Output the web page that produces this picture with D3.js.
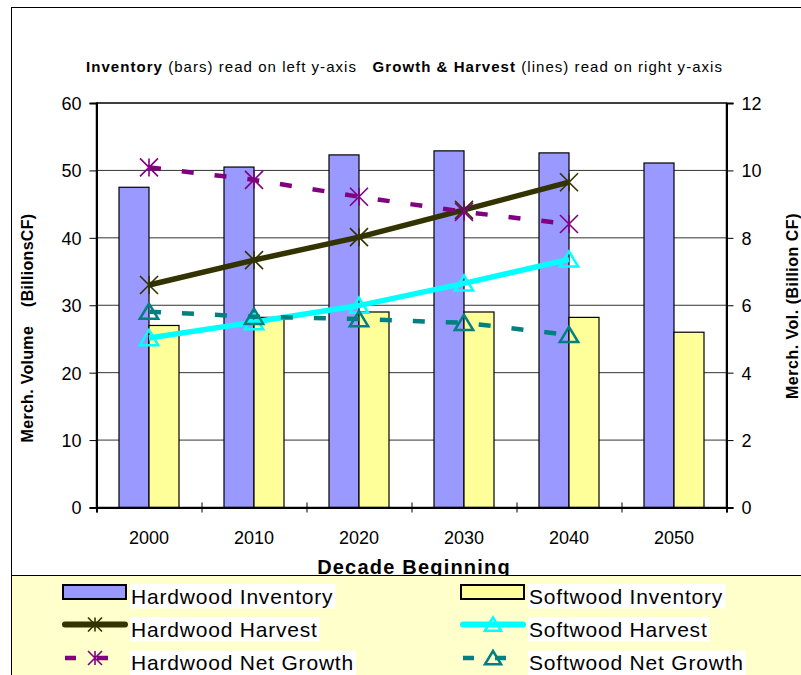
<!DOCTYPE html>
<html><head><meta charset="utf-8">
<script src="https://cdn.jsdelivr.net/npm/d3@7"></script>
<style>
html,body{margin:0;padding:0;background:#fff;}
svg{display:block;font-family:"Liberation Sans",Arial,sans-serif;}
text{white-space:pre;}
</style></head>
<body><svg id="c" width="801" height="675"></svg>
<script>
const decades = ["2000","2010","2020","2030","2040","2050"];
const hardwoodInventory = [47.5, 50.5, 52.3, 52.9, 52.6, 51.1];
const softwoodInventory = [27.0, 28.2, 29.0, 29.0, 28.2, 26.0];
const lineDecades = ["2000","2010","2020","2030","2040"];
const hardwoodHarvest = [6.60, 7.34, 8.02, 8.83, 9.65];
const softwoodHarvest = [5.03, 5.50, 5.99, 6.65, 7.36];
const hardwoodNetGrowth = [10.09, 9.72, 9.22, 8.77, 8.41];
const softwoodNetGrowth = [5.81, 5.66, 5.59, 5.48, 5.12];
const leftTicks = [0,10,20,30,40,50,60];
const rightTicks = [0,2,4,6,8,10,12];

const FONT = "'Liberation Sans',Arial,sans-serif";
const svg = d3.select("#c");
const L = 96.5, R = 726.5, T = 103, B = 507.5;

// outer chart border
svg.append("rect").attr("x",11.5).attr("y",7.5).attr("width",820).attr("height",700)
  .attr("fill","#fff").attr("stroke","#000").attr("stroke-width",1);

const x = d3.scaleBand().domain(decades).range([L,R]).paddingInner(0.4286).paddingOuter(0.2143);
const xs = d3.scaleBand().domain(["hw","sw"]).range([0,x.bandwidth()]);
const yL = d3.scaleLinear().domain([0,60]).range([B,T]);
const yR = d3.scaleLinear().domain([0,12]).range([B,T]);
const cx = d => x(d) + x.bandwidth()/2;

svg.append("rect").attr("x",L).attr("y",T).attr("width",R-L).attr("height",B-T).attr("fill","#fff");

// gridlines
svg.append("g").selectAll("line").data(leftTicks.filter(v=>v>0&&v<60)).join("line")
  .attr("x1",L).attr("x2",R).attr("y1",d=>yL(d)).attr("y2",d=>yL(d))
  .attr("stroke","#333").attr("stroke-width",1);

// bars
const bars = [["hw",hardwoodInventory,"#9999FF"],["sw",softwoodInventory,"#FFFF99"]];
bars.forEach(([k,vals,col])=>{
  svg.append("g").selectAll("rect").data(decades).join("rect")
    .attr("x",d=>x(d)+xs(k)).attr("width",xs.bandwidth())
    .attr("y",(d,i)=>yL(vals[i])).attr("height",(d,i)=>B-yL(vals[i]))
    .attr("fill",col).attr("stroke","#000").attr("stroke-width",1.2);
});

svg.append("rect").attr("x",L).attr("y",T).attr("width",R-L).attr("height",B-T)
  .attr("fill","none").attr("stroke","#000").attr("stroke-width",1.5);

// axes
const axL = svg.append("g").attr("transform",`translate(${L},0)`)
  .call(d3.axisLeft(yL).tickValues(leftTicks).tickSize(7).tickPadding(8));
const axR = svg.append("g").attr("transform",`translate(${R},0)`)
  .call(d3.axisRight(yR).tickValues(rightTicks).tickSize(7).tickPadding(8));
[axL,axR].forEach(a=>{
  a.select(".domain").attr("stroke","#000").attr("stroke-width",2);
  a.selectAll(".tick line").attr("stroke","#000").attr("stroke-width",1);
  a.selectAll(".tick text").attr("font-size",18).attr("font-family",FONT).attr("fill","#000").attr("dy","0.36em");
});
const xb = d3.scaleLinear().domain([0,6]).range([L,R]);
const axB = svg.append("g").attr("transform",`translate(0,${B})`)
  .call(d3.axisBottom(xb).ticks(6).tickSize(5).tickFormat(""));
axB.select(".domain").attr("stroke","#000").attr("stroke-width",2);
axB.selectAll(".tick line").attr("y1",-5).attr("stroke","#000");
const axBL = svg.append("g").attr("transform",`translate(0,${B})`)
  .call(d3.axisBottom(x).tickSize(0).tickPadding(24));
axBL.select(".domain").remove();
axBL.selectAll(".tick text").attr("font-size",18).attr("font-family",FONT).attr("fill","#000");

// lines
const starPath = s => `M${-s},${-s}L${s},${s}M${-s},${s}L${s},${-s}M0,${-s}L0,${s}`;
const triPath = s => `M0,${-s}L${s*1.15},${s*0.9}L${-s*1.15},${s*0.9}Z`;
const series = [
  {vals:hardwoodHarvest, col:"#333300", dash:null, w:5.5, mk:"star"},
  {vals:softwoodHarvest, col:"#00FFFF", dash:null, w:5.5, mk:"tri"},
  {vals:hardwoodNetGrowth, col:"#800080", dash:"12,21", w:4.5, mk:"star"},
  {vals:softwoodNetGrowth, col:"#008080", dash:"12,21", w:4.5, mk:"tri"}
];
const line = d3.line().x(d=>cx(d[0])).y(d=>yR(d[1]));
series.forEach(s=>{
  const pts = lineDecades.map((d,i)=>[d,s.vals[i]]);
  svg.append("path").attr("d",line(pts)).attr("fill","none").attr("stroke",s.col)
    .attr("stroke-width",s.w).attr("stroke-dasharray",s.dash);
  svg.append("g").selectAll("path").data(pts).join("path")
    .attr("transform",d=>`translate(${cx(d[0])},${yR(d[1])})`)
    .attr("d",s.mk==="star"?starPath(9):triPath(8))
    .attr("fill","none").attr("stroke",s.col).attr("stroke-width",s.mk==="star"?1.6:2.5);
});

// titles
const t = svg.append("text").attr("x",86).attr("y",72).attr("font-size",15).attr("fill","#000")
  .attr("textLength",636).attr("lengthAdjust","spacing");
t.append("tspan").attr("font-weight","bold").text("Inventory");
t.append("tspan").text(" (bars) read on left y-axis   ");
t.append("tspan").attr("font-weight","bold").text("Growth & Harvest");
t.append("tspan").text(" (lines) read on right y-axis");

svg.append("text").attr("transform","translate(33,328) rotate(-90)").attr("text-anchor","middle")
  .attr("font-size",16).attr("font-weight","bold").attr("letter-spacing",0.3).text("Merch. Volume    (BillionsCF)");
svg.append("text").attr("transform","translate(798,306) rotate(-90)").attr("text-anchor","middle")
  .attr("font-size",16).attr("font-weight","bold").attr("letter-spacing",0.5).text("Merch. Vol. (Billion CF)");
svg.append("text").attr("x",414).attr("y",574).attr("text-anchor","middle")
  .attr("font-size",20).attr("font-weight","bold").attr("letter-spacing",1.2).text("Decade Beginning");

// legend
svg.append("rect").attr("x",11.5).attr("y",575.5).attr("width",820).attr("height",200)
  .attr("fill","#FFFFCC").attr("stroke","#000").attr("stroke-width",1);
const legendItems = [
  {name:"Hardwood Inventory", type:"rect", col:"#9999FF", c:0, r:0},
  {name:"Softwood Inventory", type:"rect", col:"#FFFF99", c:1, r:0},
  {name:"Hardwood Harvest", type:"line", col:"#333300", mk:"star", c:0, r:1},
  {name:"Softwood Harvest", type:"line", col:"#00FFFF", mk:"tri", c:1, r:1},
  {name:"Hardwood Net Growth", type:"dash", col:"#800080", mk:"star", c:0, r:2},
  {name:"Softwood Net Growth", type:"dash", col:"#008080", mk:"tri", c:1, r:2}
];
const colX = [62,460], rowY = [592,624.5,658], baseY=[603.5,636.5,670];
legendItems.forEach(it=>{
  const x0 = colX[it.c], y0 = rowY[it.r];
  const g = svg.append("g");
  if(it.type==="rect"){
    g.append("rect").attr("x",x0+1).attr("y",y0-7).attr("width",63).attr("height",14)
      .attr("fill",it.col).attr("stroke","#000").attr("stroke-width",2);
  } else {
    g.append("line").attr("x1",x0+3).attr("x2",x0+63).attr("y1",y0).attr("y2",y0)
      .attr("stroke",it.col).attr("stroke-width",it.type==="line"?6:4.5)
      .attr("stroke-linecap",it.type==="line"?"round":"butt")
      .attr("stroke-dasharray",it.type==="dash"?"11,21":null);
    g.append("path").attr("transform",`translate(${x0+33},${y0})`)
      .attr("d",it.mk==="star"?starPath(7):triPath(7))
      .attr("fill","none").attr("stroke",it.col).attr("stroke-width",it.mk==="star"?1.6:2.5);
  }
  const tx = x0+69;
  const bg = g.append("rect").attr("fill","#fff");
  const tt = g.append("text").attr("x",tx).attr("y",baseY[it.r]).attr("font-size",21)
    .attr("font-family",FONT).attr("letter-spacing",0.8).attr("fill","#000").text(it.name);
  const w = tt.node().getComputedTextLength();
  bg.attr("x",tx-1).attr("y",baseY[it.r]-19.5).attr("width",w+3).attr("height",24.5);
});
</script></body></html>
